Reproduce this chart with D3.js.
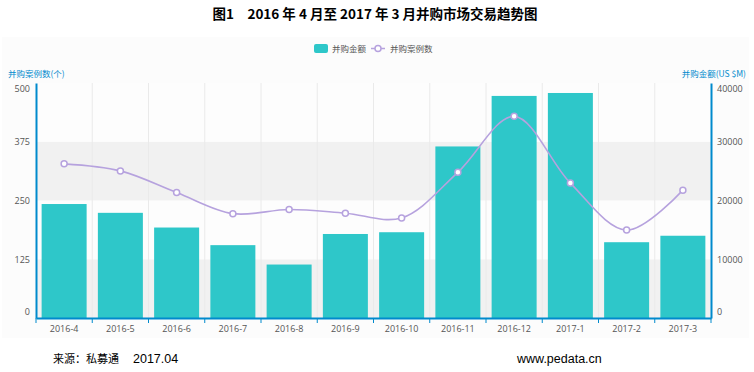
<!DOCTYPE html>
<html>
<head>
<meta charset="utf-8">
<script src="https://cdn.jsdelivr.net/npm/d3@7/dist/d3.min.js"></script>
<style>
  body { margin: 0; background: #fff; }
  svg { display: block; font-family: "Noto Sans CJK SC", "Noto Sans", sans-serif; }
</style>
</head>
<body>
<svg id="chart" width="754" height="372"></svg>
<script>
// data
const months = ["2016-4", "2016-5", "2016-6", "2016-7", "2016-8", "2016-9",
  "2016-10", "2016-11", "2016-12", "2017-1", "2017-2", "2017-3"];
const amounts = [19400, 17900, 15400, 12400, 9100, 14300, 14600, 29200, 37800, 38300, 12900, 14000];
const counts = [328, 313, 267, 222, 231, 223, 213, 310, 429, 287, 187, 272];
const countTicks = [0, 125, 250, 375, 500];
const amountTicks = [0, 10000, 20000, 30000, 40000];

const svg = d3.select("#chart");
const m = { left: 36, right: 711, top: 83, bottom: 318 };
const barColor = "#2ec7c9", lineColor = "#b6a2de", axisColor = "#008acd";
const tickFont = "'Open Sans', 'Noto Sans', sans-serif";

// container background
svg.append("rect").attr("x", 2).attr("y", 37).attr("width", 747).attr("height", 301)
  .attr("fill", "#fcfcfc");

// title
svg.append("text").attr("x", 375).attr("y", 19).attr("text-anchor", "middle")
  .attr("font-size", 13.5).attr("font-weight", "bold").attr("fill", "#000")
  .text("图1　2016 年 4 月至 2017 年 3 月并购市场交易趋势图");

// scales
const x = d3.scaleBand().domain(months).range([m.left, m.right])
  .paddingInner(0.2).paddingOuter(0.1);
const xStep = d3.scaleBand().domain(months).range([m.left, m.right]);
const yL = d3.scaleLinear().domain([0, 500]).range([m.bottom, m.top]);
const yR = d3.scaleLinear().domain([0, 40000]).range([m.bottom, m.top]);

// split areas
const plot = svg.append("g");
plot.append("rect").attr("x", m.left).attr("y", m.top)
  .attr("width", m.right - m.left).attr("height", m.bottom - m.top).attr("fill", "#fefefe");
d3.pairs(countTicks).forEach(([a, b], i) => {
  plot.append("rect").attr("x", m.left).attr("y", yL(b))
    .attr("width", m.right - m.left).attr("height", yL(a) - yL(b))
    .attr("fill", i % 2 === 0 ? "#f1f1f1" : "#fdfdfd");
});
// vertical split lines
plot.selectAll(".vgrid").data(months.slice(1)).enter().append("line")
  .attr("x1", d => xStep(d)).attr("x2", d => xStep(d))
  .attr("y1", m.top).attr("y2", m.bottom)
  .attr("stroke", "#eaeaea").attr("stroke-width", 1);

// bars
plot.selectAll(".bar").data(months).enter().append("rect")
  .attr("x", d => x(d)).attr("width", x.bandwidth())
  .attr("y", (d, i) => yR(amounts[i]))
  .attr("height", (d, i) => yR(0) - yR(amounts[i]))
  .attr("fill", barColor);

// line
const cx = d => xStep(d) + xStep.bandwidth() / 2;
const line = d3.line().x(d => cx(d)).y((d, i) => yL(counts[i]))
  .curve(d3.curveCatmullRom.alpha(0.5));
plot.append("path").datum(months).attr("d", line)
  .attr("fill", "none").attr("stroke", lineColor).attr("stroke-width", 1.6);
plot.selectAll(".dot").data(months).enter().append("circle")
  .attr("cx", d => cx(d)).attr("cy", (d, i) => yL(counts[i])).attr("r", 3)
  .attr("fill", "#fff").attr("stroke", lineColor).attr("stroke-width", 1.5);

// axes
const axLeft = svg.append("g").attr("transform", `translate(${m.left},0)`)
  .call(d3.axisLeft(yL).tickValues(countTicks).tickSize(0).tickPadding(6));
const axRight = svg.append("g").attr("transform", `translate(${m.right},0)`)
  .call(d3.axisRight(yR).tickValues(amountTicks).tickSize(0).tickPadding(6).tickFormat(d3.format("d")));
[axLeft, axRight].forEach(g => {
  g.select(".domain").attr("stroke", axisColor).attr("stroke-width", 2);
  g.selectAll("text").attr("font-size", 9).attr("fill", "#555")
    .attr("font-family", tickFont)
    .attr("dy", "0.32em")
    .attr("y", function () {
      const ty = +d3.select(this.parentNode).attr("transform").match(/,([\d.]+)/)[1];
      return ty < m.top + 6 ? 6 : ty > m.bottom - 6 ? -6 : 0;
    });
});

const axBottom = svg.append("g").attr("transform", `translate(0,${m.bottom})`)
  .call(d3.axisBottom(xStep).tickSize(0).tickPadding(8));
axBottom.select(".domain").attr("stroke", axisColor).attr("stroke-width", 2);
axBottom.selectAll("text").attr("font-size", 9).attr("fill", "#555")
  .attr("font-family", tickFont);
// boundary ticks
svg.append("g").selectAll("line").data(months.concat(["end"])).enter().append("line")
  .attr("x1", d => d === "end" ? m.right : xStep(d))
  .attr("x2", d => d === "end" ? m.right : xStep(d))
  .attr("y1", m.bottom).attr("y2", m.bottom + 5)
  .attr("stroke", axisColor).attr("stroke-width", 1);

// axis names
svg.append("text").attr("x", 8).attr("y", 77).attr("font-size", 8.5)
  .attr("fill", axisColor).text("并购案例数(个)");
svg.append("text").attr("x", 746).attr("y", 77).attr("font-size", 8.5)
  .attr("text-anchor", "end").attr("fill", axisColor).text("并购金额(US $M)");

// legend
const lg = svg.append("g").attr("font-size", 8.5).attr("fill", "#555");
lg.append("rect").attr("x", 314).attr("y", 44).attr("width", 14).attr("height", 9)
  .attr("rx", 2).attr("fill", barColor);
lg.append("text").attr("x", 332).attr("y", 51.5).text("并购金额");
lg.append("line").attr("x1", 371).attr("x2", 385).attr("y1", 48.5).attr("y2", 48.5)
  .attr("stroke", lineColor).attr("stroke-width", 1.5);
lg.append("circle").attr("cx", 378).attr("cy", 48.5).attr("r", 3)
  .attr("fill", "#fff").attr("stroke", lineColor).attr("stroke-width", 1.5);
lg.append("text").attr("x", 390).attr("y", 51.5).text("并购案例数");

// footer
const ft = svg.append("text").attr("x", 53).attr("y", 363).attr("fill", "#000");
ft.append("tspan").attr("font-size", 11).text("来源：私募通");
ft.append("tspan").attr("dx", 14).attr("font-size", 12.5)
  .attr("font-family", "'Liberation Sans', Arial, sans-serif").text("2017.04");
svg.append("text").attr("x", 517).attr("y", 363).attr("font-size", 12.5)
  .attr("font-family", "'Liberation Sans', Arial, sans-serif").attr("fill", "#000")
  .text("www.pedata.cn");
</script>
</body>
</html>
